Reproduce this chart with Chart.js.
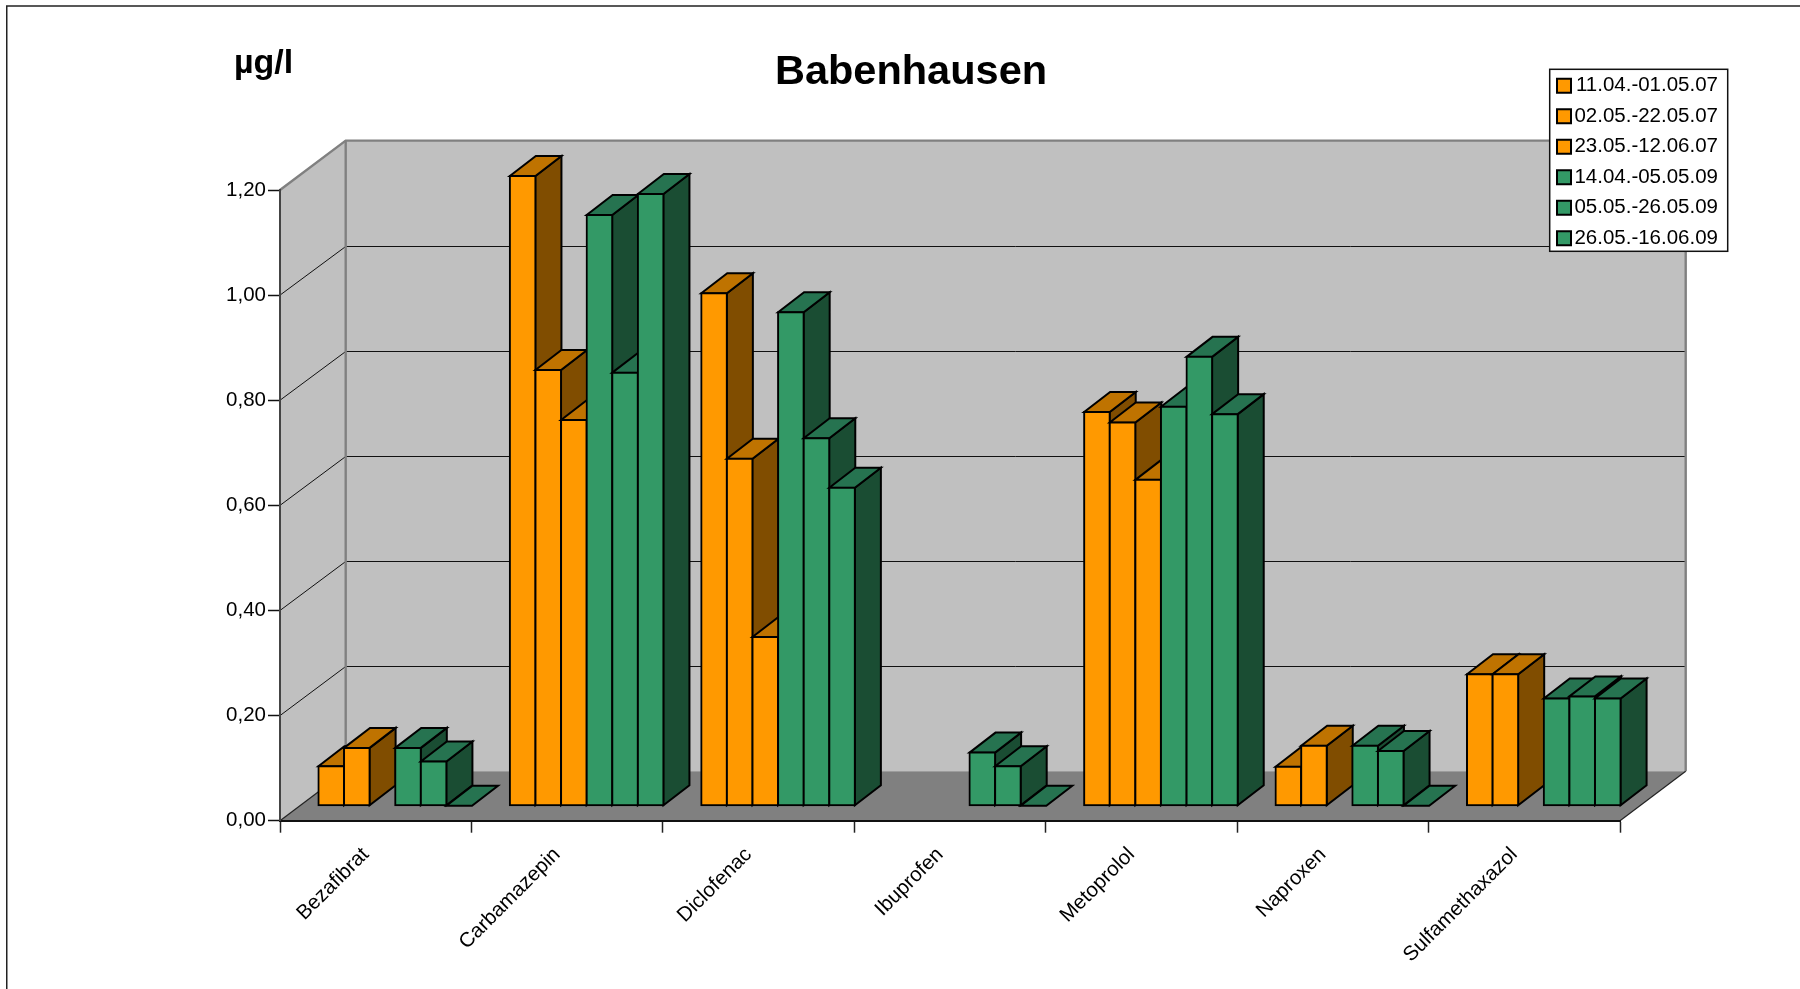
<!DOCTYPE html>
<html><head><meta charset="utf-8">
<style>html,body{margin:0;padding:0;background:#fff}canvas{display:block}</style>
<script src="https://cdn.jsdelivr.net/npm/chart.js@4"></script>
</head><body><canvas id="c" width="1800" height="989"></canvas>
<script>
const categories = ['Bezafibrat','Carbamazepin','Diclofenac','Ibuprofen','Metoprolol','Naproxen','Sulfamethaxazol'];
const s1 = [0.075, 1.198, 0.975, null, 0.749, 0.074, 0.250];
const s2 = [0.110, 0.829, 0.660, null, 0.729, 0.114, 0.250];
const s3 = [null, 0.734, 0.321, null, 0.620, null, null];
const s4 = [0.110, 1.124, 0.939, 0.101, 0.759, 0.114, 0.204];
const s5 = [0.084, 0.824, 0.699, 0.075, 0.854, 0.104, 0.208];
const s6 = [0, 1.164, 0.605, 0, 0.745, 0, 0.204];
const seriesNames = ['11.04.-01.05.07','02.05.-22.05.07','23.05.-12.06.07','14.04.-05.05.09','05.05.-26.05.09','26.05.-16.06.09'];
const seriesValues = [s1,s2,s3,s4,s5,s6];
const FONT = '"Liberation Sans", Arial, sans-serif';
const ORANGE = {front:'#FF9900', top:'#BF7300', side:'#804D00'};
const GREEN = {front:'#339966', top:'#267350', side:'#1A4D33'};
const WALL_DX = 65.7, WALL_DY = 49.4, BAR_OFF_X = 19.5, BAR_OFF_Y = 15, BAR_DX = 26, BAR_DY = 20;

const scene = {
  id:'scene',
  afterLayout(chart){
    const t = chart.titleBlock; t.left = 611; t.right = 1211; t.top = 47.5;
    const l = chart.legend; l.left = 1547; l.right = 1718; l.top = 65.5; l.bottom = 260;
    l.width = l.right - l.left;
  },
  beforeDraw(chart){
    const c = chart.ctx, a = chart.chartArea, y = chart.scales.y;
    const L=a.left,R=a.right,T=a.top,B=a.bottom;
    c.save();
    c.fillStyle='#fff'; c.fillRect(0,0,1800,989);
    // outer frame
    c.strokeStyle='#222'; c.lineWidth=1.5;
    c.beginPath(); c.moveTo(6.75,989); c.lineTo(6.75,6); c.lineTo(1800,6); c.stroke();
    // walls
    c.fillStyle='#C0C0C0';
    c.beginPath(); c.moveTo(L,T); c.lineTo(L+WALL_DX,T-WALL_DY); c.lineTo(R+WALL_DX,T-WALL_DY); c.lineTo(R+WALL_DX,B-WALL_DY); c.lineTo(L+WALL_DX,B-WALL_DY); c.lineTo(L,B); c.closePath(); c.fill();
    c.fillStyle='#808080';
    c.beginPath(); c.moveTo(L,B); c.lineTo(R,B); c.lineTo(R+WALL_DX,B-WALL_DY); c.lineTo(L+WALL_DX,B-WALL_DY); c.closePath(); c.fill();
    // grid on walls
    c.strokeStyle='#111'; c.lineWidth=1;
    y.ticks.forEach(t=>{
      if(t.value<=0||t.value>=1.2) return;
      const p=y.getPixelForValue(t.value);
      const back=Math.round(p-WALL_DY)+0.5;
      c.beginPath(); c.moveTo(L,p); c.lineTo(L+WALL_DX,back); c.lineTo(R+WALL_DX,back); c.stroke();
    });
    // wall outline
    c.strokeStyle='#808080'; c.lineWidth=2.4;
    c.beginPath(); c.moveTo(L,T); c.lineTo(L+WALL_DX,T-WALL_DY); c.lineTo(R+WALL_DX,T-WALL_DY); c.lineTo(R+WALL_DX,B-WALL_DY); c.stroke();
    c.beginPath(); c.moveTo(L+WALL_DX,T-WALL_DY); c.lineTo(L+WALL_DX,B-WALL_DY); c.stroke();
    c.strokeStyle='#222'; c.lineWidth=1.2;
    c.beginPath(); c.moveTo(L,B); c.lineTo(L+WALL_DX,B-WALL_DY); c.stroke();
    c.beginPath(); c.moveTo(R,B); c.lineTo(R+WALL_DX,B-WALL_DY); c.stroke();
    // legend frame
    c.fillStyle='#fff'; c.fillRect(1549.7,69.3,178,182);
    c.strokeStyle='#111'; c.lineWidth=1.5; c.strokeRect(1549.7,69.3,178,182);
    // unit label
    c.fillStyle='#000'; c.font='bold 34px '+FONT; c.textAlign='left'; c.textBaseline='alphabetic';
    c.fillText('µg/l',234,73);
    c.restore();
  },
  beforeDatasetsDraw(chart){
    const c = chart.ctx;
    for(let i=0;i<chart.data.datasets.length;i++){
      const meta = chart.getDatasetMeta(i), pal = i<3?ORANGE:GREEN, vals = chart.data.datasets[i].data;
      c.save();
      c.translate(BAR_OFF_X,-BAR_OFF_Y);
      c.lineWidth=2; c.strokeStyle='#000'; c.lineJoin='miter';
      meta.data.forEach((el,k)=>{
        if(vals[k]==null) return;
        const l=el.x-el.width/2, r=el.x+el.width/2, top=el.y, base=el.base;
        if(top<base){
          c.fillStyle=pal.side; c.beginPath();
          c.moveTo(r,top); c.lineTo(r+BAR_DX,top-BAR_DY); c.lineTo(r+BAR_DX,base-BAR_DY); c.lineTo(r,base); c.closePath(); c.fill(); c.stroke();
        }
        c.fillStyle=pal.top; c.beginPath();
        c.moveTo(l,top); c.lineTo(l+BAR_DX,top-BAR_DY); c.lineTo(r+BAR_DX,top-BAR_DY); c.lineTo(r,top); c.closePath(); c.fill(); c.stroke();
      });
      meta.controller.draw();
      c.restore();
    }
    return false;
  }
};

new Chart(document.getElementById('c'),{
  type:'bar',
  plugins:[scene],
  data:{labels:categories,datasets:seriesValues.map((d,i)=>({
    label:seriesNames[i],data:d,
    backgroundColor:(i<3?ORANGE:GREEN).front,borderColor:'#000',borderWidth:2,borderSkipped:false,inflateAmount:1,
    categoryPercentage:0.8024,barPercentage:1,clip:false
  }))},
  options:{
    responsive:false,animation:false,devicePixelRatio:1,
    layout:{padding:{left:0,right:180,top:140.8,bottom:0}},
    plugins:{
      tooltip:{enabled:false},
      title:{display:true,text:'Babenhausen',color:'#000',padding:0,font:{family:FONT,size:41.5,weight:'bold',lineHeight:1.186}},
      legend:{position:'chartArea',align:'start',labels:{color:'#000',boxWidth:14,boxHeight:14,padding:10,textAlign:'right',font:{family:FONT,size:20.5}}}
    },
    scales:{
      x:{
        afterFit(s){s.height=168.3;},
        grid:{drawOnChartArea:false,tickLength:12,color:'#222',tickWidth:1.5},
        border:{color:'#111',width:2},
        ticks:{color:'#000',autoSkip:false,minRotation:45,maxRotation:45,padding:10,labelOffset:-10,font:{family:FONT,size:20.5}}
      },
      y:{
        min:0,max:1.2,
        afterFit(s){s.width=280;},
        grid:{drawOnChartArea:false,tickLength:12,color:'#111',tickWidth:1.5},
        border:{color:'#444',width:2},
        ticks:{color:'#000',stepSize:0.2,padding:2,font:{family:FONT,size:20.5},callback:v=>v.toFixed(2).replace('.',',')}
      }
    }
  }
});
</script></body></html>
